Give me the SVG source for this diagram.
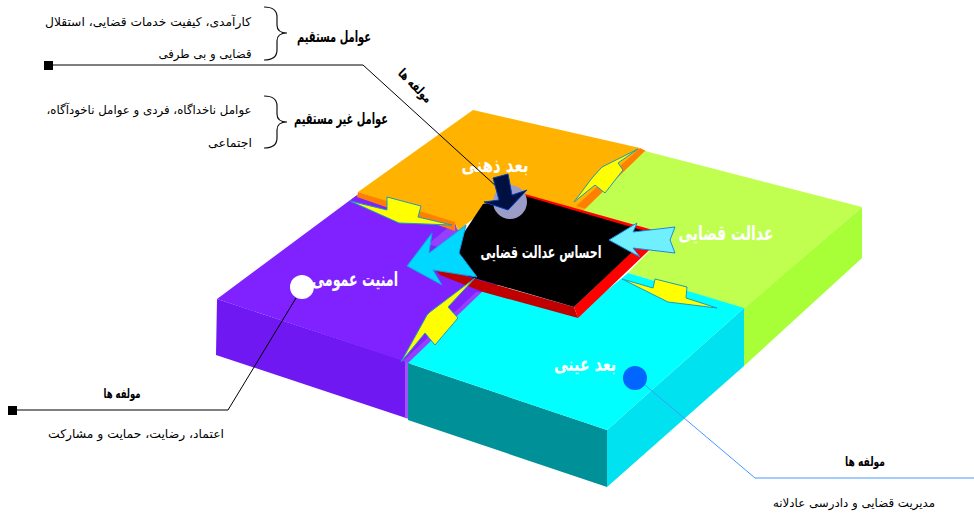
<svg xmlns="http://www.w3.org/2000/svg" width="974" height="515" viewBox="0 0 974 515">
<style>
text{font-family:"DejaVu Sans","Noto Sans",sans-serif;direction:rtl;text-anchor:middle;fill:#000}
.b{font-weight:bold;font-size:16px}
.s{font-weight:bold;font-size:13px}
.n{font-size:12px}
.w{font-weight:bold;font-size:20px;fill:#fff}
.bolt{fill:#ffff00;stroke:#1c9ac0;stroke-width:1}
.brace{fill:none;stroke:#111;stroke-width:1.2}
.line{fill:none;stroke:#000;stroke-width:1}
</style>
<rect width="974" height="515" fill="#fff"/>
<g id="block-purple">
<polygon points="217,299 216,355 406,418 406,361" fill="#6f18f2"/>
<polygon points="357,195 217,299 404,361 490,296 500,280 460,230" fill="#7f22ff"/>
<polygon points="405,361 410,362 410,419 405,418" fill="#a050ff"/>
<polygon points="403,361 476,292 490,292 410,364" fill="#9540ff"/>
<polygon points="428,244 455,222 458,232 438,247" fill="#9540ff"/>
<text class="w" x="355" y="286" textLength="86" lengthAdjust="spacingAndGlyphs">امنیت عمومی</text>
</g>
<g id="block-orange">
<polygon points="473,110 640,148 584,212 525,199 483,206 455,224 358,192" fill="#ffb300"/>
<polygon points="358,192 455,222 455,231 357,197" fill="#ff8000"/>
<polygon points="455,222 483,203 490,205 458,231" fill="#ffb300"/>
<polygon points="640,148 646,151 586,209 576,206" fill="#ff8000"/>
<text class="w" x="495" y="172" textLength="67" lengthAdjust="spacingAndGlyphs">بعد ذهنی</text>
</g>
<g id="block-green">
<polygon points="862,207 744,308 744,366 862,258" fill="#a8ff38"/>
<polygon points="645,151 862,207 744,309 628,273 662,238 655,233 583,211" fill="#c0ff50"/>
<text class="w" x="726" y="240" textLength="95" lengthAdjust="spacingAndGlyphs">عدالت قضایی</text>
</g>
<g id="block-cyan">
<polygon points="408,363 607,430 607,487 408,420" fill="#009098"/>
<polygon points="744,308 607,430 607,487 744,366" fill="#00e2f0"/>
<polygon points="408,363 484,290 577,315 628,273 744,308 607,430" fill="#00ffff"/>
<text class="w" x="585" y="371" textLength="62" lengthAdjust="spacingAndGlyphs">بعد عینی</text>
</g>
<g id="center">
<polygon points="433,267 574,307 578,318 483,292 440,275" fill="#c00000"/>
<polygon points="574,307 652,232 664,236 578,318" fill="#ff0000"/>
<polygon points="525,194 660,232 652,235 525,197" fill="#ff0000"/>
<polygon points="525,196 652,233 574,307 433,266 459,240 483,204" fill="#000"/>
<text class="w" x="541" y="258" textLength="121" lengthAdjust="spacingAndGlyphs" style="font-size:17px">احساس عدالت قضایی</text>
</g>
<g id="connectors">
<polyline class="line" points="48,65 363,65 497,187"/>
<polyline class="line" points="296,298 228,410 13,410"/>
<polyline class="line" points="645,385 755,478 974,478" style="stroke:#4499ff"/>
<rect x="44" y="61" width="9" height="9" fill="#000"/>
<rect x="8" y="406" width="9" height="9" fill="#000"/>
<polygon class="bolt" points="638,149 618,163 623,170 605,193 595,185 574,202 592,178 602,167"/>
<polygon class="bolt" points="350,201 387,210 387,197 421,206 418,217 452,225 399,223"/>
<polygon class="bolt" points="475,278 448,307 458,318 435,345 425,333 401,362 427,315 430,312"/>
<polygon class="bolt" points="622,279 653,288 655,279 687,287 686,298 717,308 668,302"/>
<polygon points="407,266 432,233 429,253 466,225 459,253 477,277 433,270 442,285" fill="#00d8ff" stroke="#1c9ae0" stroke-width="1"/>
<polygon points="609,240 637,223 633,232 675,227 670,240 675,253 633,248 640,257" fill="#70f0ff" stroke="#1c8ae0" stroke-width="1"/>
</g>
<g id="marker-gray"><circle cx="510" cy="202" r="17" fill="#9c9cc8"/>
<polygon points="493,178 508,174 512,195 527,190 508,210 484,202 499,200" fill="#001040" stroke="#0040c0" stroke-width="1"/></g>
<g id="marker-white"><circle cx="302" cy="287" r="12" fill="#fff"/></g>
<g id="marker-blue"><circle cx="635" cy="378" r="12" fill="#0066ff"/></g>
<g id="direct-factors">
<path class="brace" d="M264,7 Q277,7 277,17 V25 Q277,33 287,33 Q277,33 277,41 V50 Q277,60 264,60"/>
<text class="b" x="334" y="42" textLength="74" lengthAdjust="spacingAndGlyphs">عوامل مستقیم</text>
<text class="n" x="148" y="26" textLength="206" lengthAdjust="spacingAndGlyphs">کارآمدی، کیفیت خدمات قضایی، استقلال</text>
<text class="n" x="205" y="58" textLength="93" lengthAdjust="spacingAndGlyphs">قضایی و بی طرفی</text>
</g>
<g id="indirect-factors">
<path class="brace" d="M264,96 Q277,96 277,106 V114 Q277,122 287,122 Q277,122 277,130 V138 Q277,148 264,148"/>
<text class="b" x="341" y="124" textLength="94" lengthAdjust="spacingAndGlyphs">عوامل غیر مستقیم</text>
<text class="n" x="149" y="114" textLength="205" lengthAdjust="spacingAndGlyphs">عوامل ناخداگاه، فردی و عوامل ناخودآگاه،</text>
<text class="n" x="230" y="147" textLength="44" lengthAdjust="spacingAndGlyphs">اجتماعی</text>
</g>
<g id="label-mental">
<text class="s" transform="translate(415,86) rotate(45)" y="4" textLength="42" lengthAdjust="spacingAndGlyphs">مولفه ها</text>
</g>
<g id="label-security">
<text class="s" x="122" y="398" textLength="37" lengthAdjust="spacingAndGlyphs">مولفه ها</text>
<text class="n" x="136" y="438" textLength="176" lengthAdjust="spacingAndGlyphs">اعتماد، رضایت، حمایت و مشارکت</text>
</g>
<g id="label-objective">
<text class="s" x="865" y="466" textLength="40" lengthAdjust="spacingAndGlyphs">مولفه ها</text>
<text class="n" x="854" y="507" textLength="162" lengthAdjust="spacingAndGlyphs">مدیریت قضایی و دادرسی عادلانه</text>
</g>
</svg>
